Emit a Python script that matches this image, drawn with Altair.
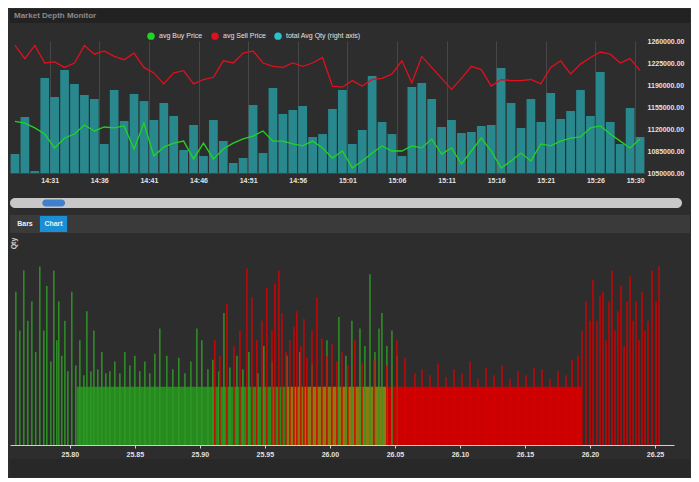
import altair as alt
import pandas as pd

BG = "#2d2d2d"
TXT = "#e2e2e2"

# ---------------- top chart: one value per minute, 14:27 .. 15:30 ----------------
minutes = list(range(64))
total_qty = [1080200, 1139100, 1053200, 1201100, 1170900, 1213900, 1191600, 1174100, 1167700, 1096100,
             1182100, 1132700, 1175700, 1164500, 1134300, 1161400, 1140700, 1086600, 1126400, 1077000,
             1134300, 1100900, 1065900, 1073900, 1158200, 1081800, 1185200, 1143900, 1150200, 1156600,
             1107300, 1112000, 1151800, 1182100, 1096100, 1118400, 1204300, 1131100, 1112000, 1077000,
             1186800, 1193200, 1167700, 1123200, 1134300, 1113600, 1115200, 1124800, 1126400, 1217100,
             1161400, 1121600, 1167700, 1131100, 1177300, 1135900, 1148600, 1182100, 1140700, 1210700,
             1131100, 1096100, 1153400, 1107300]
avg_sell = [26.28, 26.22, 26.28, 26.20, 26.205, 26.18, 26.20, 26.28, 26.24, 26.255,
            26.23, 26.215, 26.245, 26.18, 26.155, 26.105, 26.155, 26.165, 26.105, 26.125,
            26.135, 26.21, 26.20, 26.245, 26.255, 26.20, 26.185, 26.18, 26.20, 26.185,
            26.20, 26.225, 26.095, 26.09, 26.12, 26.095, 26.125, 26.13, 26.15, 26.21,
            26.11, 26.23, 26.18, 26.13, 26.08, 26.13, 26.185, 26.17, 26.095, 26.125,
            26.12, 26.12, 26.125, 26.105, 26.18, 26.21, 26.15, 26.195, 26.225, 26.25,
            26.24, 26.20, 26.22, 26.165]
avg_buy = [25.935, 25.927, 25.905, 25.877, 25.814, 25.859, 25.877, 25.918, 25.891, 25.909,
           25.905, 25.914, 25.809, 25.927, 25.777, 25.818, 25.836, 25.845, 25.764, 25.836,
           25.764, 25.809, 25.836, 25.855, 25.868, 25.891, 25.845, 25.845, 25.832, 25.823,
           25.845, 25.814, 25.768, 25.800, 25.723, 25.755, 25.791, 25.823, 25.800, 25.800,
           25.823, 25.814, 25.855, 25.786, 25.814, 25.741, 25.800, 25.859, 25.800, 25.723,
           25.755, 25.791, 25.755, 25.832, 25.823, 25.845, 25.859, 25.864, 25.905, 25.914,
           25.877, 25.845, 25.814, 25.855]
time_ticks = [4, 9, 14, 19, 24, 29, 34, 39, 44, 49, 54, 59, 63]
qty_ticks = [1050000, 1085000, 1120000, 1155000, 1190000, 1225000, 1260000]
series_names = ["avg Buy Price", "avg Sell Price", "total Avg Qty (right axis)"]
series_colors = ["#22d422", "#e0101e", "#27c3cf"]

# ---------------- depth chart ----------------
buy_price = [25.7585, 25.7615, 25.7646, 25.7677, 25.7708, 25.7738, 25.7769, 25.7800, 25.7823, 25.7854,
             25.7877, 25.7900, 25.7915, 25.7938, 25.7962, 25.7985, 25.8015, 25.8046, 25.8077, 25.8108,
             25.8131, 25.8162, 25.8185, 25.8215, 25.8246, 25.8277, 25.8308, 25.8346, 25.8385, 25.8423,
             25.8462, 25.8500, 25.8538, 25.8577, 25.8615, 25.8654, 25.8692, 25.8746, 25.8792, 25.8838,
             25.8885, 25.8931, 25.8977, 25.9015, 25.9062, 25.9100, 25.9146, 25.9185, 25.9231, 25.9285,
             25.9331, 25.9377, 25.9446, 25.9492, 25.9554, 25.9669, 25.9769, 25.9862, 25.9977, 26.0069,
             26.0123, 26.0169, 26.0231, 26.0269, 26.0308, 26.0346, 26.0377, 26.0400, 26.0438, 26.0477,
             26.0515]
buy_qty = [79, 59, 90, 64, 74, 48, 92, 59, 82, 43,
           90, 54, 74, 46, 64, 38, 79, 41, 54, 36,
           69, 38, 59, 39, 48, 37, 38, 43, 37, 48,
           41, 46, 38, 43, 37, 47, 60, 46, 39, 45,
           37, 43, 60, 54, 39, 44, 38, 68, 40, 46,
           39, 48, 37, 51, 43, 46, 48, 42, 54, 66,
           46, 64, 60, 51, 88, 48, 60, 68, 51, 59,
           46]
sell_price = [25.9115, 25.9154, 25.9208, 25.9262, 25.9308, 25.9362, 25.9400, 25.9438, 25.9477, 25.9515,
              25.9554, 25.9577, 25.9608, 25.9631, 25.9662, 25.9692, 25.9723, 25.9746, 25.9777, 25.9800,
              25.9823, 25.9862, 25.9900, 25.9938, 25.9977, 26.0015, 26.0054, 26.0092, 26.0138, 26.0192,
              26.0246, 26.0338, 26.0438, 26.0515, 26.0577, 26.0654, 26.0708, 26.0769, 26.0831, 26.0892,
              26.0954, 26.1015, 26.1077, 26.1138, 26.1200, 26.1262, 26.1323, 26.1385, 26.1446, 26.1508,
              26.1569, 26.1631, 26.1692, 26.1754, 26.1815, 26.1862, 26.1908, 26.1938, 26.1969, 26.2000,
              26.2023, 26.2054, 26.2077, 26.2100, 26.2123, 26.2146, 26.2169, 26.2192, 26.2215, 26.2238,
              26.2262, 26.2285, 26.2308, 26.2331, 26.2354, 26.2377, 26.2400, 26.2423, 26.2446, 26.2477,
              26.2508, 26.2531]
sell_qty = [54, 46, 73, 51, 59, 91, 76, 54, 64, 81,
            59, 83, 90, 68, 48, 54, 61, 69, 51, 65,
            45, 59, 76, 55, 46, 52, 43, 48, 41, 54,
            42, 44, 41, 54, 45, 37, 39, 36, 42, 35,
            39, 37, 43, 34, 40, 36, 41, 34, 38, 36,
            40, 39, 34, 38, 36, 44, 46, 59, 74, 64,
            85, 64, 77, 79, 54, 74, 90, 59, 69, 82,
            51, 74, 87, 64, 74, 54, 79, 59, 64, 90,
            74, 92]
base_side = ["buy", "both", "sell"]
base_lo = [25.8054, 25.9654, 26.0446]
base_hi = [25.9654, 26.0446, 26.1931]
base_qty = [30, 30, 30]
base_colors = ["#268a1f", "#8a7a10", "#cc0000"]
depth_ticks = [25.80, 25.85, 25.90, 25.95, 26.00, 26.05, 26.10, 26.15, 26.20, 26.25]

# ---------------- header ----------------
header = alt.Chart(pd.DataFrame({"t": ["Market Depth Monitor"]})).properties(width=680, height=26)
header = alt.layer(
    header.mark_rect(color="#222222").encode(x=alt.value(0), x2=alt.value(680), y=alt.value(0), y2=alt.value(14)),
    header.mark_text(color="#8a8a8a", fontSize=8, fontWeight="bold", align="left", baseline="middle", font="Arial")
    .encode(x=alt.value(4), y=alt.value(7), text="t:N"),
)

# ---------------- top chart ----------------
bars_df = pd.DataFrame({"m": minutes, "qty": total_qty, "series": series_names[2]})
lines_df = pd.DataFrame({
    "m": minutes * 2,
    "price": avg_buy + avg_sell,
    "series": [series_names[0]] * 64 + [series_names[1]] * 64,
})

xscale = alt.Scale(domain=[0, 64], nice=False, zero=False)
time_expr = ("(14 + floor((27 + datum.value) / 60)) + ':' + "
             "((((27 + datum.value) % 60) < 10) ? '0' : '') + ((27 + datum.value) % 60)")
xaxis = alt.Axis(values=time_ticks, labelExpr=time_expr, grid=True, gridColor="#474747",
                 ticks=False, domainColor="#7d2636", labelColor=TXT, labelFontSize=7,
                 labelFontWeight="bold", labelFont="Arial", labelPadding=3, title=None)
color = alt.Color(
    "series:N",
    scale=alt.Scale(domain=series_names, range=series_colors),
    legend=alt.Legend(orient="none", legendX=137, legendY=23, direction="horizontal", title=None,
                      symbolType="circle", symbolSize=55, symbolStrokeWidth=0, symbolOpacity=1,
                      labelColor=TXT, labelFontSize=7, labelFont="Arial", columnPadding=8),
)

bars = alt.Chart(bars_df).transform_calculate(
    x0="datum.m + 0.06", x1="datum.m + 0.94"
).mark_bar(opacity=0.6).encode(
    x=alt.X("x0:Q", scale=xscale, axis=xaxis),
    x2="x1:Q",
    y=alt.Y("qty:Q", scale=alt.Scale(domain=[1050000, 1260000], zero=False, nice=False),
            axis=alt.Axis(orient="right", values=qty_ticks, format=".2f", ticks=False, domain=False,
                          grid=False, labelColor=TXT, labelFontSize=7, labelFontWeight="bold",
                          labelFont="Arial", labelPadding=2, title=None)),
    y2=alt.datum(1050000),
    color=color,
)
lines = alt.Chart(lines_df).transform_calculate(mc="datum.m + 0.5").mark_line(strokeWidth=1.3).encode(
    x=alt.X("mc:Q", scale=xscale, axis=xaxis),
    y=alt.Y("price:Q", scale=alt.Scale(domain=[25.70, 26.30], zero=False, nice=False), axis=None),
    color=color,
)
top = alt.layer(bars, lines).resolve_scale(y="independent").properties(width=635, height=132)

# ---------------- navigator & buttons ----------------
nav_df = pd.DataFrame({"part": ["track", "thumb"], "lo": [0, 4.8], "hi": [100, 8.2]})
nav_x = alt.Scale(domain=[0, 100], nice=False)
nav_base = alt.Chart(nav_df).properties(width=672, height=26)
nav = alt.layer(
    nav_base.transform_filter("datum.part == 'track'").mark_rect(color="#c8c8c8", cornerRadius=5).encode(
        x=alt.X("lo:Q", scale=nav_x, axis=None), x2="hi:Q", y=alt.value(13), y2=alt.value(23)),
    nav_base.transform_filter("datum.part == 'thumb'").mark_rect(color="#3f7fcc", cornerRadius=4).encode(
        x=alt.X("lo:Q", scale=nav_x, axis=None), x2="hi:Q", y=alt.value(14.5), y2=alt.value(21.5)),
)

btn_df = pd.DataFrame({"label": ["", "Bars", "Chart"], "lo": [0, 0.6, 4.4], "hi": [100, 3.8, 8.4],
                       "active": [0, 0, 1]})
btn_x = alt.Scale(domain=[0, 100], nice=False)
btn_base = alt.Chart(btn_df).properties(width=680, height=22)
buttons = alt.layer(
    btn_base.transform_filter("datum.label == ''").mark_rect(color="#3a3a3a").encode(
        x=alt.X("lo:Q", scale=btn_x, axis=None), x2="hi:Q", y=alt.value(2), y2=alt.value(20)),
    btn_base.transform_filter("datum.active == 1").mark_rect(color="#1b8fd6").encode(
        x=alt.X("lo:Q", scale=btn_x, axis=None), x2="hi:Q", y=alt.value(3), y2=alt.value(19)),
    btn_base.transform_filter("datum.label != ''").transform_calculate(mid="(datum.lo + datum.hi) / 2")
    .mark_text(color="#f0f0f0", fontSize=7, fontWeight="bold", font="Arial", baseline="middle").encode(
        x=alt.X("mid:Q", scale=btn_x, axis=None), y=alt.value(11), text="label:N"),
)

# ---------------- depth chart ----------------
spikes_df = pd.DataFrame({
    "price": buy_price + sell_price,
    "qty": buy_qty + sell_qty,
    "side": ["buy"] * len(buy_price) + ["sell"] * len(sell_price),
})
base_df = pd.DataFrame({"side": base_side, "lo": base_lo, "hi": base_hi, "qty": base_qty})
dx = alt.Scale(domain=[25.754, 26.2646], nice=False, zero=False)
dy = alt.Scale(domain=[0, 100], nice=False)
depth_base = alt.Chart(base_df).mark_rect().encode(
    x=alt.X("lo:Q", scale=dx,
            axis=alt.Axis(values=depth_ticks, format=".2f", grid=False, domainColor="#d0d0d0",
                          tickColor="#d0d0d0", tickSize=3, labelColor=TXT, labelFontSize=7,
                          labelFontWeight="bold", labelFont="Arial", labelPadding=2, title=None)),
    x2="hi:Q",
    y=alt.Y("qty:Q", scale=dy,
            axis=alt.Axis(labels=False, ticks=False, domain=False, grid=False, title="Qty",
                          titleColor="#cfcfcf", titleFontSize=7, titleFont="Arial", titleX=6, titleY=-8,
                          titleAlign="center", titleAngle=270)),
    y2=alt.datum(0),
    color=alt.Color("side:N", scale=alt.Scale(domain=base_side, range=base_colors), legend=None),
)
spikes = alt.Chart(spikes_df).mark_rule(strokeWidth=1.6, opacity=0.88).encode(
    x=alt.X("price:Q", scale=dx),
    y=alt.Y("qty:Q", scale=dy),
    y2=alt.datum(0),
    color=alt.Color("side:N", scale=alt.Scale(domain=["buy", "sell"], range=["#2f9a27", "#d60000"]),
                    legend=None),
)
depth = alt.layer(depth_base, spikes).resolve_scale(color="independent").properties(width=664, height=194)

footer = alt.Chart(pd.DataFrame({"v": [0]})).mark_rect(color="#282828").encode(
    x=alt.value(0), x2=alt.value(680), y=alt.value(0), y2=alt.value(18)
).properties(width=680, height=18)

chart = alt.vconcat(header, top, nav, buttons, depth, footer, spacing=0).properties(
    background=BG, padding=0
).configure_view(stroke="transparent").configure_concat(spacing=0)

chart.save("out.html", embed_options={"renderer": "svg", "actions": False})
